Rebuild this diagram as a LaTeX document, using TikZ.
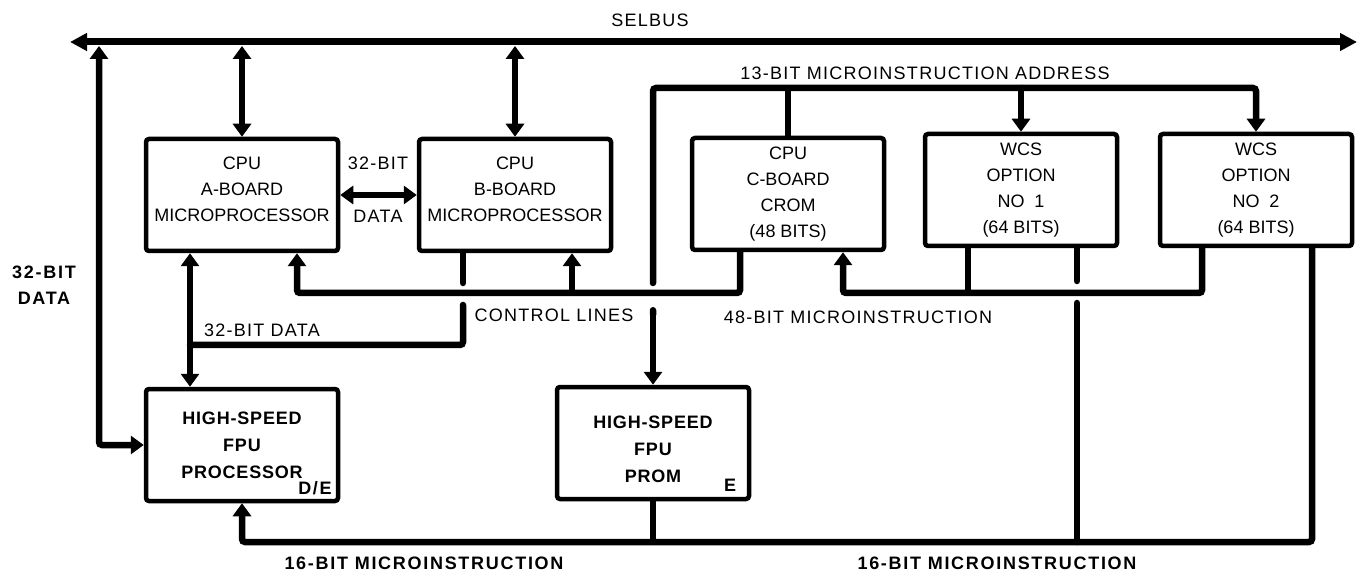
\documentclass[tikz,border=0pt]{standalone}
\usepackage{fontspec}
\setmainfont{Liberation Sans}
\newfontfamily\lblfont{Liberation Sans}[LetterSpace=7]
\newfontfamily\blblfont{Liberation Sans}[LetterSpace=9.5]
\newfontfamily\hsfont{Liberation Sans}[LetterSpace=4.5]
\usetikzlibrary{arrows.meta,positioning}

\begin{document}
\begin{tikzpicture}[
    x=1pt, y=-1pt,
    >={Triangle[length=13pt, width=18pt]},
    every node/.style={font=\fontsize{18}{26}\selectfont},
    block/.style={rectangle, rounded corners=3pt, minimum width=192pt, minimum height=112pt, align=center, draw, line width=4.5pt, inner sep=2pt},
    hsblock/.style={block, font=\fontsize{18}{27}\selectfont\hsfont\bfseries},
    conn/.style={line width=6.5pt},
    bus/.style={line width=7pt, {Triangle[length=17pt, width=17pt]}-{Triangle[length=17pt, width=17pt]}},
    lbl/.style={align=center, inner sep=0pt, font=\fontsize{18}{26}\selectfont\lblfont},
    blbl/.style={lbl, font=\fontsize{18}{26}\selectfont\blblfont\bfseries},
]
\useasboundingbox (0,0) rectangle (1363,577);

% boards
\node[block, text height=53pt] (a) at (242,195) {CPU\\A-BOARD\\MICROPROCESSOR};
\node[block, text height=53pt] (b) at (515,195) {CPU\\B-BOARD\\MICROPROCESSOR};
\node[block] (c) at (788,194) {CPU\\C-BOARD\\CROM\\(48 BITS)};
\node[block] (w1) at (1021,190) {WCS\\OPTION\\NO\ \ 1\\(64 BITS)};
\node[block] (w2) at (1256,190) {WCS\\OPTION\\NO\ \ 2\\(64 BITS)};
\node[hsblock] (fpup) at (242,445) {HIGH-SPEED\\FPU\\PROCESSOR};
\node[hsblock, text height=80pt] (prom) at (653,443) {HIGH-SPEED\\FPU\\PROM};
\node[blbl] (de) at (315,488) {D/E};
\node[blbl] (e) at (730,485) {E};

% bus ends and junctions
\coordinate (selL) at (70,42);
\coordinate (selR) at (1357,42);
\coordinate (selbot) at (99,46);
\coordinate (addr) at (653,88);
\coordinate (ctl) at (297,293);
\coordinate (bdt) at (463,293);
\coordinate (bcl) at (572,293);
\coordinate (ccl) at (740,293);
\coordinate (ccm) at (843,293);
\coordinate (w1a) at (968,293);
\coordinate (w1b) at (1077,293);
\coordinate (w2a) at (1202,293);
\coordinate (dat) at (190,345);
\coordinate (mic) at (242,542);
\coordinate (w2b) at (1312,542);

% SELBUS
\draw[bus] (selL) -- (selR);
\draw[conn, <->, rounded corners=3pt] (fpup.west) -| (selbot);
\draw[conn, <->] (a.north) -- (a.north |- selbot);
\draw[conn, <->] (b.north) -- (b.north |- selbot);
\draw[conn, <->] (a.east) -- (b.west);

% 13-bit address
\draw[conn, line cap=round, rounded corners=3pt, shorten <=10pt] (prom.north |- ctl) |- (w1.north |- addr);
\draw[conn, ->, rounded corners=3pt] (w1.north |- addr) -| (w2.north);
\draw[conn, ->] (w1.north |- addr) -- (w1.north);
\draw[conn] (c.north) -- (c.north |- addr);
\draw[conn, {Round Cap}->, shorten <=14pt] (prom.north |- ctl) -- (prom.north);

% control lines and 32-bit data
\draw[conn, ->, rounded corners=3pt] (ccl |- c.south) |- (ctl) -- (ctl |- a.south);
\draw[conn, ->] (bcl) -- (bcl |- b.south);
\draw[conn, line cap=round, shorten >=10pt] (bdt |- b.south) -- (bdt);
\draw[conn, line cap=round, rounded corners=3pt, shorten <=12pt] (bdt) |- (dat);
\draw[conn, <->] (dat |- a.south) -- (dat |- fpup.north);

% 48-bit
\draw[conn, ->, rounded corners=3pt] (w2a |- w2.south) |- (ccm) -- (ccm |- c.south);
\draw[conn] (w1a |- w1.south) -- (w1a);
\draw[conn, line cap=round, shorten >=12pt] (w1b |- w1.south) -- (w1b);
\draw[conn, line cap=round, shorten <=10pt] (w1b) -- (w1b |- mic);

% 16-bit
\draw[conn, ->, rounded corners=3pt] (w2b |- w2.south) |- (mic) -- (fpup.south);
\draw[conn] (prom.south) -- (prom.south |- mic);

% labels
\node[lbl] (selbus) at (650,20) {SELBUS};
\node[lbl] (addrlbl) at (925,73) {13-BIT MICROINSTRUCTION ADDRESS};
\node[lbl] (abtop) at (378,163) {32-BIT};
\node[lbl] (abbot) at (378,216) {DATA};
\node[blbl] (leftdata) at (44,285) {32-BIT\\DATA};
\node[lbl] (datlbl) at (262,330) {32-BIT DATA};
\node[lbl] (ctllbl) at (554,315) {CONTROL LINES};
\node[lbl] (miclbl) at (858,317) {48-BIT MICROINSTRUCTION};
\node[blbl] (bot1) at (424,563) {16-BIT MICROINSTRUCTION};
\node[blbl] (bot2) at (997,563) {16-BIT MICROINSTRUCTION};
\end{tikzpicture}
\end{document}
